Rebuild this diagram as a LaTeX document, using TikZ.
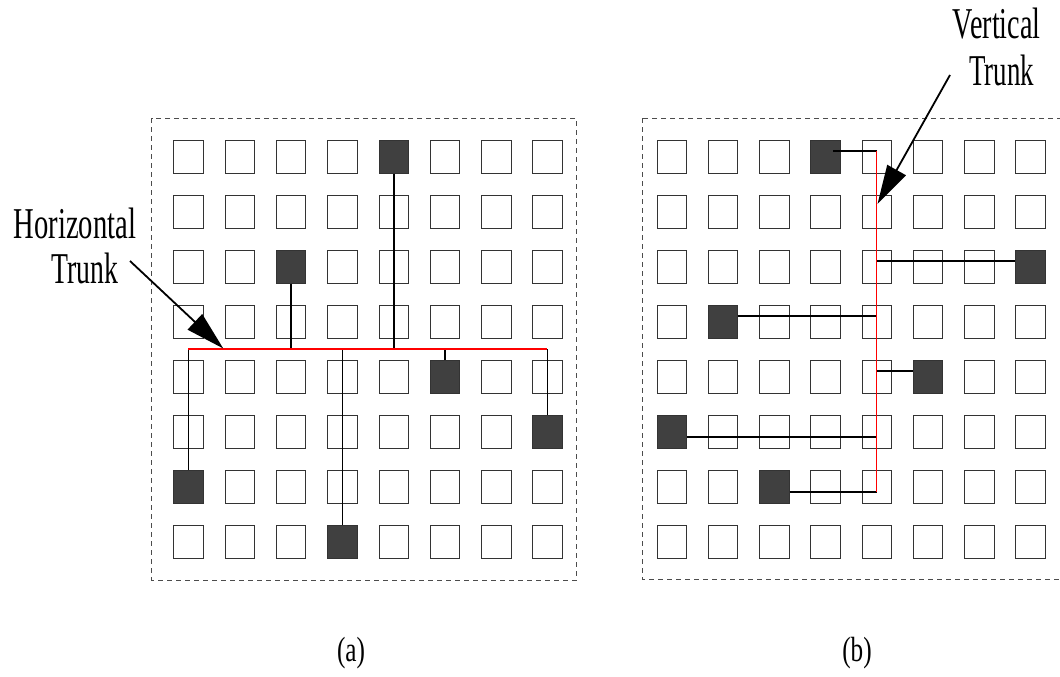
\documentclass[tikz,border=0pt]{standalone}
\usepackage{fontspec}
\setmainfont{Liberation Serif}
\usepackage{graphicx}
\usetikzlibrary{arrows.meta,calc}
\begin{document}
\begin{tikzpicture}[x=1pt,y=-1pt,
  cell/.style={draw=black!80,line width=1pt,minimum width=29.5pt,minimum height=32.7pt,inner sep=0pt,anchor=north west,fill=white},
  dark/.style={fill=black!75},
  dL-4-0/.style={dark},dL-2-2/.style={dark},dL-5-4/.style={dark},
  dL-7-5/.style={dark},dL-0-6/.style={dark},dL-3-7/.style={dark},
  dR-3-0/.style={dark},dR-7-2/.style={dark},dR-1-3/.style={dark},
  dR-5-4/.style={dark},dR-0-5/.style={dark},dR-2-6/.style={dark},
  panel/.style={draw=black!70,line width=0.9pt,dash pattern=on 5pt off 4pt},
  trunkh/.style={draw=red,line width=1.6pt},
  trunkv/.style={draw=red,line width=1.2pt},
  wire/.style={draw=black,line width=1.6pt},
  callout/.style={draw=black,line width=1.8pt,-{Triangle[length=39pt,width=21pt]}},
  lab/.style={inner sep=0pt,anchor=base,font=\fontsize{44}{44}\selectfont},
  captext/.style={inner sep=0pt,anchor=center,font=\fontsize{35}{35}\selectfont}
]
\useasboundingbox (0,0) rectangle (1060,677);

% panels
\draw[panel] (151.7,118.3) rectangle (576.7,580);
\draw[panel] (642.3,118.3) rectangle (1066,579.5);

% cells
\foreach \i in {0,...,7}{
  \foreach \j in {0,...,7}{
    \node[cell,dL-\i-\j/.try] (L-\i-\j) at ({173.3+51.3*\i},{140+55*\j}) {};
    \node[cell,dR-\i-\j/.try] (R-\i-\j) at ({656.7+51.25*\i},{140+55*\j}) {};
  }
}

% (a) horizontal trunk
\coordinate (LT1) at (188.05,349);
\coordinate (LT2) at (547.1,349);
\draw[wire] (L-0-6.north) -- (L-0-6.north |- LT1);
\draw[wire] (L-2-2.south) -- (L-2-2.south |- LT1);
\draw[wire] (L-3-7.north) -- (L-3-7.north |- LT1);
\draw[wire] (L-4-0.south) -- (L-4-0.south |- LT1);
\draw[wire] (L-5-4.north) -- (L-5-4.north |- LT1);
\draw[wire] (L-7-5.north) -- (L-7-5.north |- LT1);
\draw[trunkh] (LT1) -- (LT2);

% (b) vertical trunk
\coordinate (RT1) at (876.6,151);
\coordinate (RT2) at (876.6,491.7);
\coordinate (r0) at (833.2,151);
\coordinate (j2) at (876.6,261);
\coordinate (j3) at (876.6,316);
\coordinate (j4) at (876.6,370.7);
\coordinate (j5) at (876.6,436.7);
\draw[wire] (r0) -- (RT1);
\draw[wire] (j2) -- (R-7-2.west |- j2);
\draw[wire] (R-1-3.east |- j3) -- (j3);
\draw[wire] (j4) -- (R-5-4.west |- j4);
\draw[wire] (R-0-5.east |- j5) -- (j5);
\draw[wire] (R-2-6.east |- RT2) -- (RT2);
\draw[trunkv] (RT1) -- (RT2);

% callouts
\node[lab] (ht1) at (75,238.3) {\scalebox{0.65}[1]{Horizontal}};
\node[lab] (ht2) at (85,283.3) {\scalebox{0.63}[1]{Trunk}};
\coordinate (ha) at (130,261);
\coordinate (hb) at (223.3,348.5);
\draw[callout] (ha) -- (hb);

\node[lab] (vt1) at (996.7,39) {\scalebox{0.64}[1]{Vertical}};
\node[lab] (vt2) at (1001.7,85) {\scalebox{0.61}[1]{Trunk}};
\coordinate (va) at (950,75);
\coordinate (vb) at (877.5,204);
\draw[callout] (va) -- (vb);

% captions
\node[captext] (capa) at (351,653) {\scalebox{0.72}[1]{(a)}};
\node[captext] (capb) at (857,653) {\scalebox{0.72}[1]{(b)}};
\end{tikzpicture}
\end{document}
